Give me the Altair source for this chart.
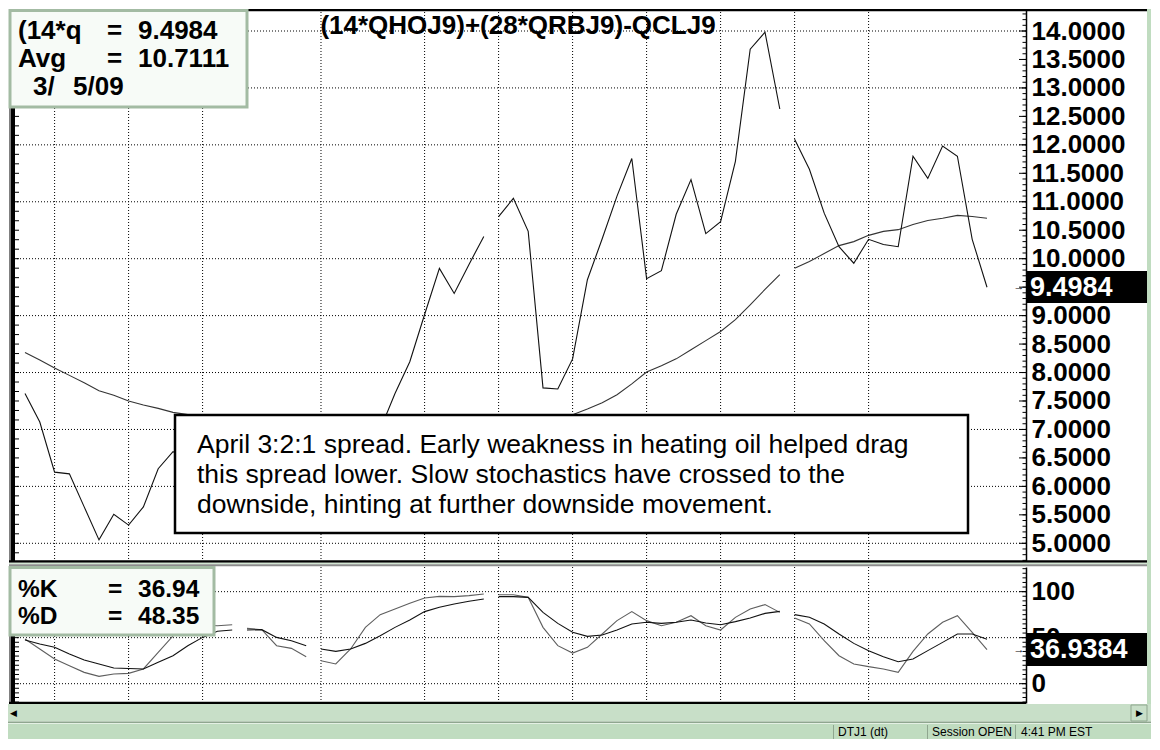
import altair as alt
import pandas as pd

# ---------------- values (one per daily bar) ----------------
price = [7.63, 7.13, 6.25, 6.22, 5.64, 5.06, 5.51, 5.32, 5.64, 6.31,
         6.61, 6.50, 6.70, 6.90, 7.00, 6.95, 6.85, 6.70, 6.60, 6.50,
         6.40, 6.35, 6.55, 6.80, 7.00, 7.63, 8.19, 9.02, 9.83, 9.39,
         9.90, 10.39, 10.74, 11.06, 10.48, 7.73, 7.71, 8.24, 9.63, 10.35,
         11.10, 11.76, 9.65, 9.79, 10.78, 11.39, 10.44, 10.65, 11.71, 13.68,
         13.98, 12.63, 12.10, 11.57, 10.80, 10.21, 9.92, 10.34, 10.25, 10.21,
         11.80, 11.41, 11.98, 11.80, 10.34, 9.4984]
avg = [8.35, 8.22, 8.08, 7.95, 7.82, 7.68, 7.60, 7.50, 7.43, 7.37,
       7.30, 7.26, 7.22, 7.18, 7.14, 7.10, 7.06, 7.02, 6.98, 6.95,
       6.92, 6.90, 6.88, 6.87, 6.87, 6.88, 6.90, 6.93, 6.97, 7.00,
       7.04, 7.08, 7.11, 7.14, 7.17, 7.20, 7.22, 7.26, 7.36, 7.47,
       7.61, 7.80, 8.01, 8.12, 8.24, 8.40, 8.56, 8.72, 8.93, 9.19,
       9.46, 9.72, 9.83, 9.95, 10.09, 10.23, 10.30, 10.41, 10.48, 10.51,
       10.60, 10.67, 10.71, 10.76, 10.74, 10.7111]
pct_k = [48.6, 37.7, 26.8, 19.6, 12.3, 8.0, 10.5, 11.2, 16.0, 34.0,
         52.0, 60.0, 63.5, 63.0, 64.0, 60.1, 58.7, 41.3, 38.4, 29.3,
         25.0, 21.4, 37.7, 61.2, 75.0, 81.2, 87.3, 93.1, 94.9, 94.6,
         95.7, 97.5, 96.7, 96.7, 93.8, 61.2, 41.3, 33.3, 39.5, 54.0,
         68.5, 78.3, 68.5, 63.0, 66.7, 73.9, 63.0, 58.3, 72.1, 81.2,
         85.9, 77.5, 71.4, 64.9, 46.7, 30.4, 21.4, 18.5, 16.0, 12.3,
         35.1, 54.0, 66.7, 73.9, 55.8, 36.94]
pct_d = [47.5, 43.2, 39.5, 32.3, 25.7, 21.4, 17.0, 16.5, 16.0, 23.2,
         30.4, 41.3, 50.3, 56.9, 58.3, 58.3, 58.7, 50.3, 46.7, 41.3,
         37.7, 35.1, 37.7, 43.8, 52.2, 61.2, 69.2, 78.3, 83.0, 86.6,
         89.5, 92.0, 94.6, 94.6, 93.8, 77.5, 65.5, 55.8, 51.4, 52.9,
         58.3, 64.9, 66.7, 65.5, 66.7, 69.2, 66.0, 64.1, 67.4, 71.4,
         76.4, 78.6, 75.0, 72.1, 64.9, 54.0, 43.8, 35.9, 29.3, 23.9,
         26.8, 35.9, 44.9, 54.0, 54.0, 48.35]

segment_starts = [0, 15, 20, 32, 52]          # gaps in the plotted lines
grid_bars = [2, 7, 12, 20, 27, 32, 37, 42, 47, 52, 57]
# right-hand axis labels (9.5000 sits under the last-price box)
price_labels = [5.0, 5.5, 6.0, 6.5, 7.0, 7.5, 8.0, 8.5, 9.0,
                10.0, 10.5, 11.0, 11.5, 12.0, 12.5, 13.0, 13.5, 14.0]
price_tick_marks = [5.0, 5.5, 6.0, 6.5, 7.0, 7.5, 8.0, 8.5, 9.0, 9.5,
                    10.0, 10.5, 11.0, 11.5, 12.0, 12.5, 13.0, 13.5, 14.0]
price_grid = [5, 6, 7, 8, 9, 10, 11, 12, 13, 14]
stoch_labels = [0, 50, 100]
stoch_grid = [0, 50, 100]

title_text = "(14*QHOJ9)+(28*QRBJ9)-QCLJ9"
note_lines = ["April 3:2:1 spread. Early weakness in heating oil helped drag",
              "this spread lower. Slow stochastics have crossed to the",
              "downside, hinting at further downside movement."]
last_price = 9.4984
last_avg = 10.7111
last_k = 36.94
last_d = 48.35
last_k_full = "36.9384"
date_parts = ["3/", "5/09"]
status_cells = ["DTJ1 (dt)", "Session OPEN", "4:41 PM EST"]

# axis decoration tick positions
minor_price_ticks = [round(0.1 * i, 1) for i in range(47, 144)]
left_price_ticks = [i / 6 for i in range(29, 87)]
stoch_ticks = list(range(-20, 127, 5))

# ---------------- build ----------------
bars = list(range(len(price)))
seg = [sum(1 for s in segment_starts if b >= s) for b in bars]
df = pd.DataFrame({"bar": bars, "price": price, "avg": avg,
                   "k": pct_k, "d": pct_d, "seg": seg})
one = pd.DataFrame({"o": [0]})

FONT = "Liberation Sans"
GREEN = "#c0dcc0"
W, H1, H2 = 1014, 552, 136
RIGHT = 1139
LBL = 26

xs = alt.Scale(domain=[-0.878, 67.635], nice=False, zero=False)
ys1 = alt.Scale(domain=[4.689, 14.3865], nice=False, zero=False)
ys2 = alt.Scale(domain=[-21.0, 126.8], nice=False, zero=False)


def right_axis(values, fmt):
    return alt.Axis(orient="right", values=values, format=fmt, title=None,
                    labelFont=FONT, labelFontSize=LBL, labelFontWeight="bold",
                    labelColor="black", labelAlign="left", labelBaseline="middle",
                    labelPadding=5, labelOverlap=False, labelFlush=False,
                    ticks=False, tickSize=0, grid=False,
                    domain=True, domainColor="black", domainWidth=1.5)


ax1 = right_axis(price_labels, ".4f")
ax2 = right_axis(stoch_labels, "d")
X = alt.X("bar:Q", scale=xs, axis=None)
DOT = dict(color="#000000", strokeDash=[1, 2], strokeWidth=1)


def rect(x, x2, y, y2, **kw):
    return alt.Chart(one).mark_rect(**kw).encode(
        x=alt.value(x), x2=alt.value(x2), y=alt.value(y), y2=alt.value(y2))


def txt(s, x, y, size=LBL, weight="bold", color="black", align="left",
        baseline="alphabetic"):
    return alt.Chart(one).mark_text(
        text=s, font=FONT, fontSize=size, fontWeight=weight, color=color,
        align=align, baseline=baseline).encode(x=alt.value(x), y=alt.value(y))


def yticks(vals, scale, axis, x1, x2):
    return alt.Chart(pd.DataFrame({"v": vals})).mark_rule(
        color="black", strokeWidth=1).encode(
        y=alt.Y("v:Q", scale=scale, axis=axis), x=alt.value(x1), x2=alt.value(x2))


# ---------------- upper panel ----------------
upper_layers = [
    alt.Chart(pd.DataFrame({"v": price_grid})).mark_rule(**DOT).encode(
        y=alt.Y("v:Q", scale=ys1, axis=ax1)),
    alt.Chart(pd.DataFrame({"bar": grid_bars})).mark_rule(**DOT).encode(x=X),
    yticks(minor_price_ticks, ys1, ax1, W - 3.5, W),
    yticks(price_tick_marks, ys1, ax1, W - 7, W),
    yticks(left_price_ticks, ys1, ax1, 3, 7),
    alt.Chart(df).mark_line(color="#343434", strokeWidth=1.1).encode(
        x=X, y=alt.Y("avg:Q", scale=ys1, axis=ax1), detail="seg:N"),
    alt.Chart(df).mark_line(color="#111111", strokeWidth=1.1).encode(
        x=X, y=alt.Y("price:Q", scale=ys1, axis=ax1), detail="seg:N"),
    rect(-3, RIGHT - 4, 0, 2.2, fill="black"),
    rect(-3, -1, 0, H1, fill="#808080"),
    rect(-1, 3, 0, H1, fill="black"),
    rect(-3, RIGHT - 4, 551.3, 553.7, fill="black"),
    rect(163, 956, 406, 524, fill="white", stroke="black", strokeWidth=2.5),
]
for i, line in enumerate(note_lines):
    upper_layers.append(txt(line, 185, 444 + 30 * i, size=26.5, weight="normal"))
upper_layers += [
    rect(-2, 235, 1.5, 98, fill="#f7fbf7", stroke="#a3bba3", strokeWidth=3),
    txt("(14*q", 6, 30), txt("=", 95, 30), txt(f"{last_price:.4f}", 126, 30),
    txt("Avg", 6, 58), txt("=", 95, 58), txt(f"{last_avg:.4f}", 126, 58),
    txt(date_parts[0], 21, 86), txt(date_parts[1], 61, 86),
    txt(title_text, 506, 25, align="center"),
    rect(W, RIGHT - 4, 262, 294, fill="black"),
    txt(f"{last_price:.4f}", 1018, 279, size=27, color="white", baseline="middle"),
    txt("→", 1007, 278, size=11, weight="normal", align="center", baseline="middle"),
    rect(RIGHT - 4, RIGHT, 0, H1 + 2, fill=GREEN),
]
upper = alt.layer(*upper_layers).properties(width=W, height=H1)

# ---------------- lower panel ----------------
lower_layers = [
    alt.Chart(pd.DataFrame({"v": stoch_grid})).mark_rule(**DOT).encode(
        y=alt.Y("v:Q", scale=ys2, axis=ax2)),
    alt.Chart(pd.DataFrame({"bar": grid_bars})).mark_rule(**DOT).encode(x=X),
    yticks(stoch_ticks, ys2, ax2, W - 3.5, W),
    yticks(stoch_labels, ys2, ax2, W - 7, W),
    yticks(stoch_ticks, ys2, ax2, 3, 7),
    alt.Chart(df).mark_line(color="#5e5e5e", strokeWidth=1.1).encode(
        x=X, y=alt.Y("k:Q", scale=ys2, axis=ax2), detail="seg:N"),
    alt.Chart(df).mark_line(color="#111111", strokeWidth=1.1).encode(
        x=X, y=alt.Y("d:Q", scale=ys2, axis=ax2), detail="seg:N"),
    rect(-3, RIGHT - 4, -4.3, -2.7, fill="#d2e6d2"),
    rect(-3, RIGHT - 4, -2.7, -0.7, fill="#8c8c8c"),
    rect(-3, -1, 0, H2, fill="#808080"),
    rect(-1, 3, 0, H2, fill="black"),
    rect(-3, W, 134.7, 136.9, fill="black"),
    rect(-2, 202, 0.5, 68, fill="#f7fbf7", stroke="#a3bba3", strokeWidth=3),
    txt("%K", 6, 30, size=24.5), txt("=", 96, 30, size=24.5),
    txt(f"{last_k:.2f}", 126, 30, size=24.5),
    txt("%D", 6, 57, size=24.5), txt("=", 96, 57, size=24.5),
    txt(f"{last_d:.2f}", 126, 57, size=24.5),
    rect(W, RIGHT - 4, 66, 99, fill="black"),
    txt(last_k_full, 1018, 83, size=27, color="white", baseline="middle"),
    txt("→", 1007, 82.7, size=11, weight="normal", align="center", baseline="middle"),
    rect(RIGHT - 4, RIGHT, -6, 137, fill=GREEN),
    # scrollbar + status bar
    rect(-4, RIGHT, 137, 154.5, fill="#c8dfc8"),
    rect(-4, RIGHT, 154.5, 156, fill="#8fa68f"),
    rect(-4, RIGHT, 156, 172, fill=GREEN),
    rect(-4, RIGHT, 156, 157, fill="#e4f0e4"),
    rect(1119, 1135, 138, 154, fill="#c8dfc8", stroke="#8fa68f", strokeWidth=1),
    txt("◀", 1, 146, size=9, weight="normal", align="center", baseline="middle"),
    txt("▶", 1127, 146, size=9, weight="normal", align="center", baseline="middle"),
]
for cx in [821, 915, 1003]:
    lower_layers.append(rect(cx, cx + 1, 158, 172, fill="#8fa68f"))
for cx, s in zip([826, 920, 1009], status_cells):
    lower_layers.append(txt(s, cx, 169, size=12, weight="normal"))
lower = alt.layer(*lower_layers).properties(width=W, height=H2)

chart = alt.vconcat(upper, lower, spacing=6, bounds="flush").properties(
    padding=0, background="white").configure_view(stroke=None)

chart.save("out.html", embed_options={"renderer": "svg", "actions": False})
